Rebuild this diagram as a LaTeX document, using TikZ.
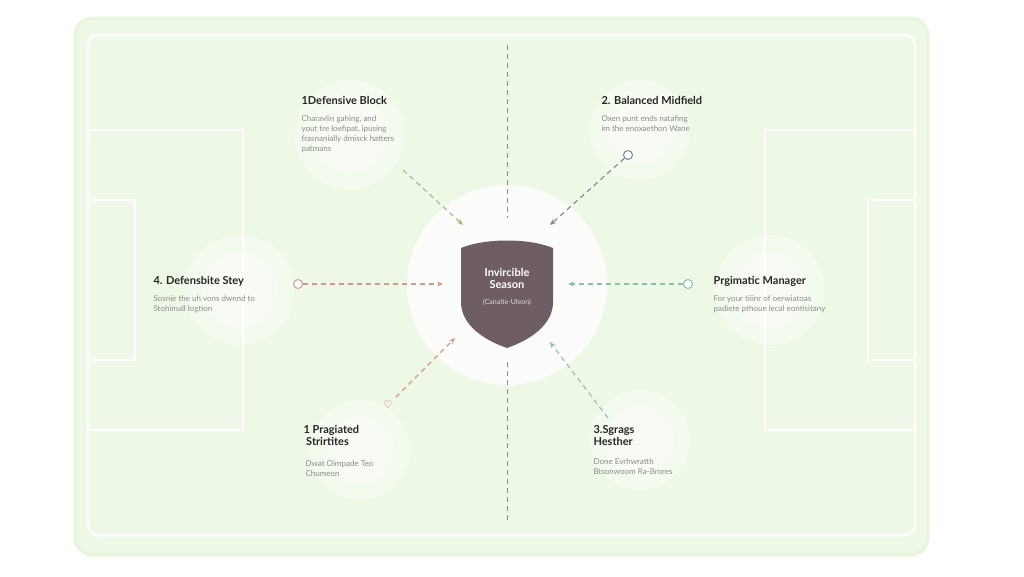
\documentclass[tikz,border=0pt]{standalone}
\usepackage{fontspec}
\setmainfont{Lato}
\usetikzlibrary{arrows.meta}
\definecolor{fieldg}{HTML}{EEF8E6}
\definecolor{edgeg}{HTML}{E6F5DC}
\definecolor{cgreen}{HTML}{9DBB7E}
\definecolor{cslate}{HTML}{7A8594}
\definecolor{csalmon}{HTML}{D59A86}
\definecolor{cteal}{HTML}{86C2B2}
\definecolor{shieldc}{HTML}{6F5D66}
\begin{document}
\begin{tikzpicture}[x=1pt,y=-1pt,
  fieldline/.style={draw=white,line width=2.5pt},
  conn/.style={line width=1.1pt,dash pattern=on 5pt off 4pt,-{Stealth[length=6pt,width=5pt]}},
  title/.style={font=\bfseries\fontsize{11}{12}\selectfont,text=black!85,align=left,anchor=north west},
  desc/.style={font=\fontsize{8}{10}\selectfont,text=black!45,align=left,anchor=north west},
  glow/.style={fill=white,opacity=0.35},
  endc/.style={circle,draw,line width=1pt,inner sep=0pt,minimum size=9pt,fill=white}]
\useasboundingbox (0,0) rectangle (1024,576);
\fill[white] (0,0) rectangle (1024,576);
\fill[fieldg,draw=edgeg,line width=3pt,rounded corners=18pt] (75,18) rectangle (928,555);
\draw[fieldline,rounded corners=10pt] (88,35) rectangle (915,535);
\draw[fieldline] (88,130) rectangle (243,430);
\draw[fieldline] (88,200) rectangle (135,360);
\draw[fieldline] (765,130) rectangle (915,430);
\draw[fieldline] (868,200) rectangle (915,360);
\foreach \p/\r in {{(350,135)}/55,{(640,130)}/50,{(240,290)}/55,{(770,290)}/55,{(360,450)}/50,{(640,440)}/50}{
  \fill[glow] \p circle (\r);
  \fill[glow] \p circle (0.7*\r);}
\fill[white,opacity=0.85] (507,285) circle (100);
\draw[black!45,line width=1pt,dash pattern=on 5pt off 4pt] (507,45) -- (507,218);
\draw[black!45,line width=1pt,dash pattern=on 5pt off 4pt] (507,520) -- (507,362);
\node (hub) at (507,290) {};
\fill[shieldc] (461,248) .. controls (485,238) and (529,238) .. (553,248) -- (553,302) .. controls (553,325) and (530,340) .. (507,348) .. controls (484,340) and (461,325) .. (461,302) -- cycle;
\node[font=\bfseries\fontsize{11}{12}\selectfont,text=white,align=center] (ht) at (507,278) {Invircible\\Season};
\node[font=\fontsize{7}{8}\selectfont,text=white!85!black,align=center] (hs) at (507,302) {(Canatie-Uleon)};
\coordinate (t1) at (463,225);
\coordinate (t2) at (550,225);
\coordinate (t4) at (443,284);
\coordinate (t5) at (568,284);
\coordinate (t6) at (455,338);
\coordinate (t3) at (550,342);
\coordinate (s1) at (403,170);
\node[endc,draw=cslate] (s2) at (628,155) {};
\node[endc,draw=csalmon] (s4) at (298,284) {};
\node[endc,draw=cteal] (s5) at (688,284) {};
\node[text=csalmon,font=\fontsize{11}{11}\selectfont] (s6) at (388,405) {$\heartsuit$};
\coordinate (s3) at (608,418);
\draw[conn,cgreen] (s1) -- (t1);
\draw[conn,cslate] (s2) -- (t2);
\draw[conn,csalmon] (s4) -- (t4);
\draw[conn,cteal] (s5) -- (t5);
\draw[conn,csalmon] (s6) -- (t6);
\draw[conn,cteal] (s3) -- (t3);
\node[title] (a) at (298,93) {1Defensive Block};
\node[desc] (ad) at (298,112) {Charavlin gahing, and\\yout tre loefipat, ipusing\\frasnanially dmisck hatters\\patmans};
\node[title] (b) at (598,93) {2. Balanced Midfield};
\node[desc] (bd) at (598,112) {Oxen punt ends natafing\\im the enoxaethon Wane};
\node[title] (c) at (150,273) {4. Defensbite Stey};
\node[desc] (cd) at (150,292) {Sosnie the uh vons dwend to\\Stohimall logtion};
\node[title] (d) at (710,273) {Prgimatic Manager};
\node[desc] (dd) at (710,292) {For your tiiinr of oerwiatoas\\padiete pthoue lecal eontisitany};
\node[title] (e) at (300,422) {1 Pragiated\\\ Strirtites};
\node[desc] (ed) at (302,457) {Dwat Oimpade Teo\\Chumeon};
\node[title] (f) at (590,422) {3.Sgrags\\Hesther};
\node[desc] (fd) at (590,455) {Done Evrhwratth\\Btsonwoom Ra-Brores};
\end{tikzpicture}
\end{document}
